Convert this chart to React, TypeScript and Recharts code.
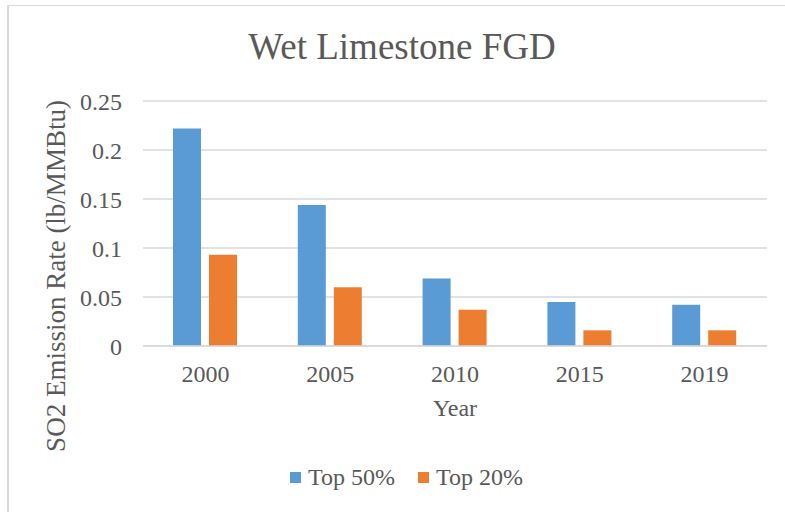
import React from 'react';
import { BarChart, Bar, XAxis, YAxis, CartesianGrid, Legend } from 'recharts';

const years = ['2000', '2005', '2010', '2015', '2019'];
const top50 = [0.222, 0.144, 0.069, 0.045, 0.042];
const top20 = [0.093, 0.06, 0.037, 0.016, 0.016];
const yTicks = [0, 0.05, 0.1, 0.15, 0.2, 0.25];
const seriesNames = ['Top 50%', 'Top 20%'];

const data = years.map((y, i) => ({ year: y, a: top50[i], b: top20[i] }));

const FONT = '"Liberation Serif", "Times New Roman", serif';
const TXT = '#595959';
const BLUE = '#5B9BD5';
const ORANGE = '#ED7D31';

const LegendContent = () => (
  <div style={{ display: 'flex', alignItems: 'center', fontFamily: FONT, fontSize: 24, color: TXT }}>
    <span style={{ width: 11, height: 11, background: BLUE, display: 'inline-block', marginRight: 7 }} />
    <span style={{ marginRight: 23 }}>{seriesNames[0]}</span>
    <span style={{ width: 11, height: 11, background: ORANGE, display: 'inline-block', marginRight: 7 }} />
    <span>{seriesNames[1]}</span>
  </div>
);

export default function App() {
  return (
    <div style={{ position: 'absolute', left: 0, top: 0, width: 785, height: 512, background: '#fff', overflow: 'hidden' }}>
      <div style={{ position: 'absolute', left: 7, top: 5, right: -5, bottom: -5, borderLeft: '2px solid #D9D9D9', borderTop: '1px solid #D9D9D9' }} />
      <div style={{ position: 'absolute', left: 0, width: 804, top: 23, textAlign: 'center', fontFamily: FONT, fontSize: 37, color: TXT, lineHeight: '48px' }}>
        Wet Limestone FGD
      </div>
      <div style={{ position: 'absolute', left: 0, top: 0 }}>
        <BarChart width={785} height={512} data={data} margin={{ top: 101, right: 18, bottom: 136, left: 0 }} barSize={28} barGap={8}>
          <CartesianGrid vertical={false} stroke="#D9D9D9" strokeWidth={1.5} />
          <XAxis
            dataKey="year"
            height={30}
            tickLine={false}
            axisLine={{ stroke: '#D9D9D9', strokeWidth: 1.5 }}
            tick={{ fill: TXT, fontFamily: FONT, fontSize: 24 }}
            tickMargin={13}
            label={{ value: 'Year', position: 'bottom', offset: 23, fill: TXT, fontFamily: FONT, fontSize: 24 }}
          />
          <YAxis
            width={143}
            domain={[0, 0.25]}
            ticks={yTicks}
            tickLine={false}
            axisLine={false}
            tick={{ fill: TXT, fontFamily: FONT, fontSize: 24 }}
            tickMargin={15}
            label={{
              content: () => (
                <text x={65} y={276} transform="rotate(-90 65 276)" textAnchor="middle" fill={TXT} fontFamily={FONT} fontSize={27}>
                  SO2 Emission Rate (lb/MMBtu)
                </text>
              ),
            }}
          />
          <Legend verticalAlign="middle" align="center" content={LegendContent} wrapperStyle={{ position: 'absolute', top: 464, left: 290, width: 'auto' }} />
          <Bar dataKey="a" name={seriesNames[0]} fill={BLUE} isAnimationActive={false} />
          <Bar dataKey="b" name={seriesNames[1]} fill={ORANGE} isAnimationActive={false} />
        </BarChart>
      </div>
    </div>
  );
}
